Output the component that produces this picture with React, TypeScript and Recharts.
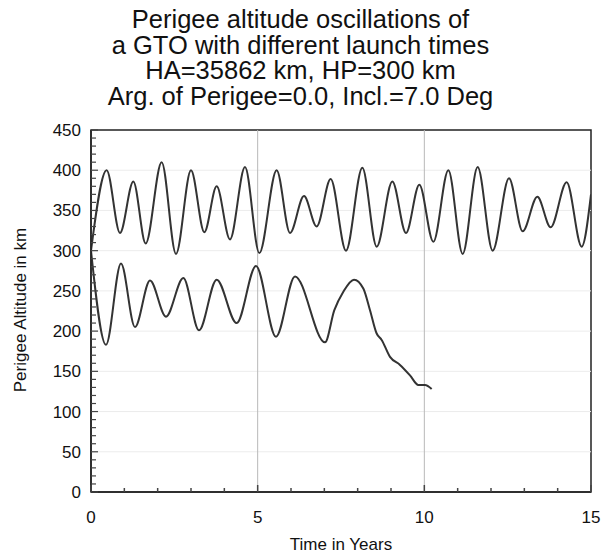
import React from 'react';
import { LineChart, Line, XAxis, YAxis, ReferenceLine, ReferenceArea } from 'recharts';

// Upper curve (launch time A): time in years, perigee altitude in km
const upperTime = [0, 0.47, 0.87, 1.27, 1.64, 2.12, 2.55, 3.0, 3.4, 3.77, 4.17, 4.62, 5.05, 5.57, 5.97, 6.39, 6.77, 7.19, 7.65, 8.14, 8.57, 9.04, 9.45, 9.85, 10.27, 10.72, 11.15, 11.6, 12.05, 12.54, 12.95, 13.39, 13.79, 14.27, 14.72, 15.0];
const upperAlt = [300, 400, 322, 386, 309, 410, 296, 400, 323, 380, 314, 404, 297, 400, 322, 368, 330, 389, 300, 403, 305, 386, 322, 382, 311, 400, 296, 404, 300, 390, 324, 367, 329, 385, 305, 370];

// Lower curve (launch time B): decays and re-enters near 10 years
const lowerTime = [0, 0.45, 0.9, 1.32, 1.77, 2.25, 2.77, 3.24, 3.77, 4.37, 4.95, 5.55, 6.12, 7.02, 7.3, 7.57, 7.89, 8.17, 8.37, 8.57, 8.72, 8.97, 9.27, 9.57, 9.82, 10.02, 10.22];
const lowerAlt = [300, 183, 284, 205, 263, 218, 266, 201, 264, 210, 281, 193, 268, 186, 226, 249, 264, 253, 226, 197, 189, 168, 158, 145, 133, 133, 128];

const xTicks = [0, 1, 2, 3, 4, 5, 6, 7, 8, 9, 10, 11, 12, 13, 14, 15];
const yTicks = [0, 10, 20, 30, 40, 50, 60, 70, 80, 90, 100, 110, 120, 130, 140, 150, 160, 170, 180, 190, 200, 210, 220, 230, 240, 250, 260, 270, 280, 290, 300, 310, 320, 330, 340, 350, 360, 370, 380, 390, 400, 410, 420, 430, 440, 450];
const xLabelStep = 5;
const yLabelStep = 50;
const verticalGrid = [5, 10];
const horizontalGrid = [50, 100, 150, 200, 250, 300, 350, 400];

const titleLines = [
  'Perigee altitude oscillations of',
  'a GTO with different launch times',
  'HA=35862 km, HP=300 km',
  'Arg. of Perigee=0.0, Incl.=7.0 Deg',
];
const xTitle = 'Time in Years';
const yTitle = 'Perigee Altitude in km';

const upperData = upperTime.map((t, i) => ({ t, alt: upperAlt[i] }));
const lowerData = lowerTime.map((t, i) => ({ t, alt: lowerAlt[i] }));

const FONT = '"Liberation Sans", Arial, Helvetica, sans-serif';
const INK = '#222';

const YTick = (props: any) => {
  const { x, y, payload } = props;
  const v = payload.value;
  const major = v % yLabelStep === 0;
  const ax = x + 10;
  return (
    <g>
      <line x1={ax} x2={ax + (major ? 7 : 5)} y1={y} y2={y} stroke="#444" strokeWidth={1.2} />
      {major && (
        <text x={x} y={y} dy={6} textAnchor="end" fontFamily={FONT} fontSize={17} fill="#111">
          {v}
        </text>
      )}
    </g>
  );
};

const XTick = (props: any) => {
  const { x, y, payload } = props;
  const v = payload.value;
  const major = v % xLabelStep === 0;
  const ay = y - 10;
  return (
    <g>
      <line x1={x} x2={x} y1={ay} y2={ay - (major ? 7 : 4)} stroke="#444" strokeWidth={1.5} />
      {major && (
        <text x={x} y={ay + 31} textAnchor="middle" fontFamily={FONT} fontSize={17} fill="#111">
          {v}
        </text>
      )}
    </g>
  );
};

export default function App() {
  return (
    <div style={{ position: 'fixed', left: 0, top: 0, width: 602, height: 555, background: '#fff', fontFamily: FONT }}>
      <div
        style={{
          position: 'absolute',
          left: 0,
          top: 7,
          width: 601,
          textAlign: 'center',
          fontSize: 25.5,
          lineHeight: '25.5px',
          color: '#111',
        }}
      >
        {titleLines.map((l) => (
          <div key={l}>{l}</div>
        ))}
      </div>
      <LineChart
        width={602}
        height={555}
        margin={{ top: 130, right: 11, left: 31, bottom: 13 }}
        style={{ position: 'absolute', left: 0, top: 0 }}
      >
        <XAxis
          type="number"
          dataKey="t"
          domain={[0, 15]}
          ticks={xTicks}
          interval={0}
          tick={<XTick />}
          tickLine={false}
          tickSize={6}
          tickMargin={4}
          axisLine={{ stroke: INK, strokeWidth: 1.5 }}
          height={50}
          allowDataOverflow
        />
        <YAxis
          type="number"
          domain={[0, 450]}
          ticks={yTicks}
          interval={0}
          tick={<YTick />}
          tickLine={false}
          tickSize={6}
          tickMargin={4}
          axisLine={{ stroke: INK, strokeWidth: 1.5 }}
          width={60}
          allowDataOverflow
        />
        {horizontalGrid.map((v) => (
          <ReferenceLine key={'h' + v} y={v} stroke="#ececec" strokeWidth={1} />
        ))}
        {verticalGrid.map((v) => (
          <ReferenceLine key={'v' + v} x={v} stroke="#b8b8b8" strokeWidth={1} />
        ))}
        <ReferenceArea x1={0} x2={15} y1={0} y2={450} fill="none" fillOpacity={0} stroke={INK} strokeWidth={1.5} />
        <Line
          data={upperData}
          dataKey="alt"
          type="monotone"
          stroke="#333"
          strokeWidth={2}
          dot={false}
          isAnimationActive={false}
        />
        <Line
          data={lowerData}
          dataKey="alt"
          type="monotone"
          stroke="#333"
          strokeWidth={2}
          dot={false}
          isAnimationActive={false}
        />
      </LineChart>
      <div
        style={{
          position: 'absolute',
          left: 241,
          width: 200,
          top: 535,
          textAlign: 'center',
          fontSize: 17,
          lineHeight: '20px',
          color: '#111',
        }}
      >
        {xTitle}
      </div>
      <div
        style={{
          position: 'absolute',
          left: 21 - 120,
          width: 240,
          top: 310 - 10,
          textAlign: 'center',
          fontSize: 17,
          lineHeight: '20px',
          color: '#111',
          transform: 'rotate(-90deg)',
        }}
      >
        {yTitle}
      </div>
    </div>
  );
}
